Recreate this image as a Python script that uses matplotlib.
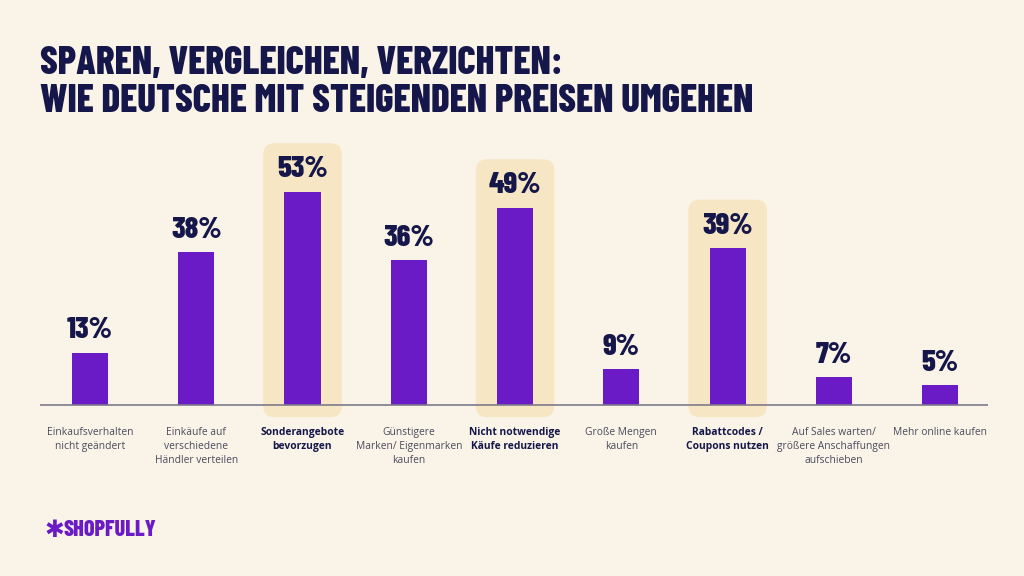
import matplotlib.pyplot as plt
from matplotlib.patches import FancyBboxPatch

categories = [
    'Einkaufsverhalten\nnicht geändert',
    'Einkäufe auf\nverschiedene\nHändler verteilen',
    'Sonderangebote\nbevorzugen',
    'Günstigere\nMarken/ Eigenmarken\nkaufen',
    'Nicht notwendige\nKäufe reduzieren',
    'Große Mengen\nkaufen',
    'Rabattcodes /\nCoupons nutzen',
    'Auf Sales warten/\ngrößere Anschaffungen\naufschieben',
    'Mehr online kaufen',
]
values = [13, 38, 53, 36, 49, 9, 39, 7, 5]
highlighted = [2, 4, 6]

bg = '#faf4e8'
purple = '#6a1bc5'
navy = '#15164a'
hl = '#f6e6c3'
narrow = ['Barlow Condensed', 'DejaVu Sans']

fig = plt.figure(figsize=(10.24, 5.76), dpi=100, facecolor=bg)
# axes: baseline at y=405px, top at 140px
ax = fig.add_axes([40 / 1024, (576 - 418) / 576, 948 / 1024, (418 - 140) / 576])
ax.set_facecolor(bg)
ax.set_xlim(-0.47, 8.45)
ax.set_ylim(-3.2, 65.8)

x = list(range(len(values)))

for i in highlighted:
    box = FancyBboxPatch((i - 0.37, -3.0), 0.74, values[i] + 15.0,
                         boxstyle='round,pad=0,rounding_size=0.11',
                         mutation_aspect=26.4, facecolor=hl, edgecolor='none', zorder=1)
    ax.add_patch(box)

ax.bar(x, values, width=0.34, color=purple, zorder=2)
ax.axhline(0, color='#7d7a8c', lw=1.2, zorder=3)

for i, v in enumerate(values):
    ax.annotate(f'{v}%', (i, v), xytext=(0, 6), textcoords='offset points',
                ha='center', va='bottom', fontsize=22, fontweight=800,
                fontstretch='condensed', color=navy, family=narrow)
    bold = i in highlighted
    ax.text(i, -5.5, categories[i], ha='center', va='top', fontsize=7.4,
            color=navy if bold else '#4a4a5e', fontweight='bold' if bold else 'normal',
            linespacing=1.35, family=['Open Sans', 'DejaVu Sans'])

for s in ax.spines.values():
    s.set_visible(False)
ax.set_xticks([])
ax.set_yticks([])

fig.text(40 / 1024, 1 - 46 / 576, 'SPAREN, VERGLEICHEN, VERZICHTEN:\nWIE DEUTSCHE MIT STEIGENDEN PREISEN UMGEHEN',
         ha='left', va='top', fontsize=28, fontweight=800, fontstretch='condensed',
         color=navy, linespacing=1.12, family=narrow)

fig.text(44 / 1024, 1 - 537 / 576, '✱', ha='left', va='baseline', fontsize=17,
         fontweight='bold', color=purple, family='DejaVu Sans')
fig.text(63 / 1024, 1 - 536 / 576, 'SHOPFULLY', ha='left', va='baseline', fontsize=16,
         fontweight=800, fontstretch='condensed', color=purple, family=narrow)

fig.savefig('out.png', dpi=100, facecolor=bg)
